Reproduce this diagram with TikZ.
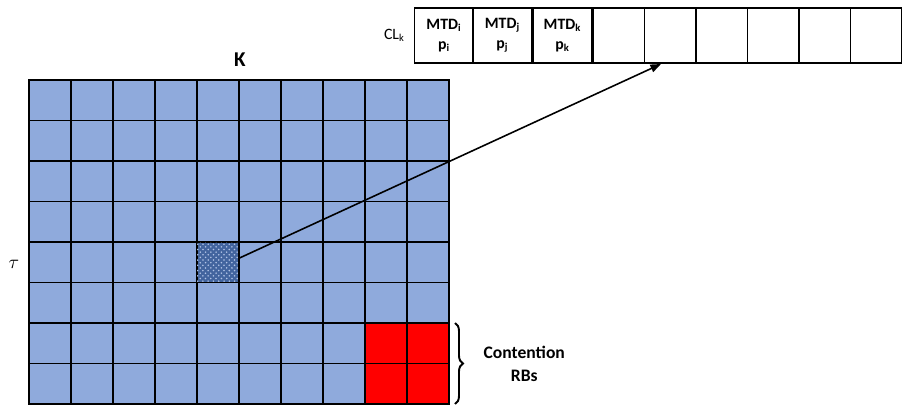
\documentclass[tikz,border=0pt]{standalone}
\usepackage{fontspec}
\setmainfont{Carlito}
\usetikzlibrary{positioning, arrows.meta, decorations.pathreplacing, patterns}
\definecolor{rbblue}{HTML}{8FAADC}
\definecolor{rbred}{HTML}{FF0000}
\definecolor{rbdark}{HTML}{42649E}

\begin{document}
\begin{tikzpicture}[
    x=0.02cm, y=-0.02cm,
    rb/.style={rectangle, draw, line width=0.6pt, fill=rbblue,
               minimum width=0.84cm, minimum height=0.81cm,
               inner sep=0pt, outer sep=0pt},
    contention/.style={rb, fill=rbred},
    picked/.style={rb, fill=rbdark,
                   postaction={pattern=crosshatch dots, pattern color=rbblue!70!white}},
    clcell/.style={rectangle, draw, line width=0.6pt,
                   minimum width=1.03cm, minimum height=1.1cm,
                   inner sep=0pt, outer sep=0pt, align=center,
                   font=\fontsize{9}{11.5}\selectfont\bfseries},
    wide/.style={clcell, minimum width=1.18cm},
    arrow/.style={-{Triangle[length=6pt, width=4.5pt]}, line width=0.9pt},
    small/.style={font=\fontsize{9}{11}\selectfont},
    smallbf/.style={font=\fontsize{10}{13}\selectfont\bfseries, align=center},
]
\useasboundingbox (0,0) rectangle (902,405);

% ============== resource grid ==============
\foreach \r in {1,...,8} {
  \foreach \c in {1,...,10} {
    \def\sty{rb}
    \ifnum\r>6 \ifnum\c>8 \def\sty{contention}\fi\fi
    \ifnum\r=5 \ifnum\c=5 \def\sty{picked}\fi\fi
    \node[\sty] (rb-\r-\c) at ({29+42*(\c-0.5)}, {80+40.5*(\r-0.5)}) {};
  }
}
\node[font=\fontsize{12}{14}\selectfont\bfseries] (K) at (240,60) {K};
\node[font=\fontsize{10.5}{12}\selectfont] (tau) at (14,264) {$\tau$};

% ============== contention list ==============
\node[wide] (cl-1) at (444,35.5) {MTD\textsubscript{i}\\p\textsubscript{i}};
\node[wide] (cl-2) at (502.5,35.5) {MTD\textsubscript{j}\\p\textsubscript{j}};
\node[wide] (cl-3) at (562.5,35.5) {MTD\textsubscript{k}\\p\textsubscript{k}};
\foreach \i in {4,...,9}
  \node[clcell] (cl-\i) at ({593+51.5*(\i-3.5)}, 35.5) {};
\node[small, left=2pt of cl-1] (CL) {CL\textsubscript{k}};

% ============== mapping arrow ==============
\coordinate (tip) at (661,64);
\draw[arrow] ([yshift=0.08cm]rb-5-5.east) -- (tip);

% ============== contention RBs ==============
\draw[decorate, decoration={brace, amplitude=0.16cm}, line width=1.1pt]
  ([xshift=0.12cm]rb-7-10.north east) -- ([xshift=0.12cm]rb-8-10.south east)
  coordinate[midway, xshift=0.2cm] (bracetip);
\node[smallbf, right=0.25cm of bracetip] (cont) {Contention\\RBs};

\end{tikzpicture}
\end{document}
